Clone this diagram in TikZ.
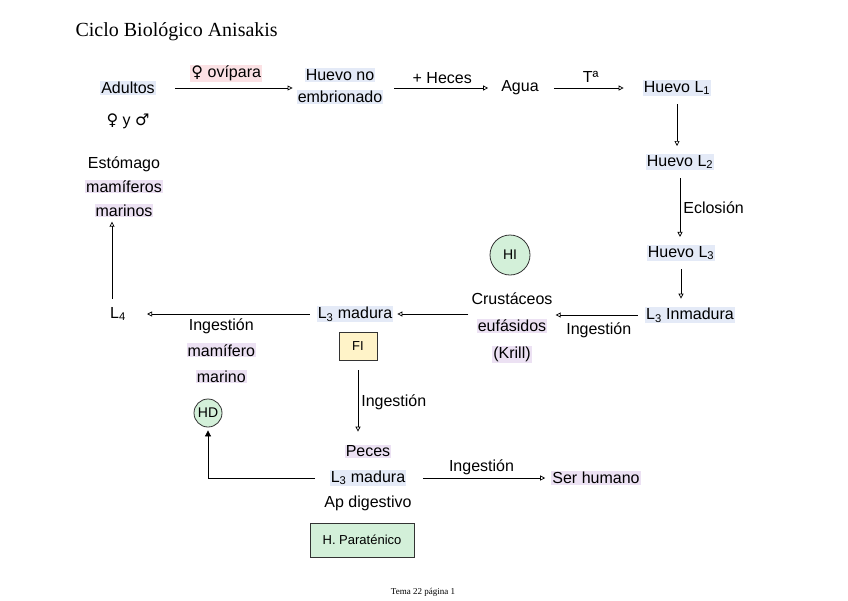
\documentclass[tikz,border=0pt]{standalone}
\usepackage{fontspec}
\setmainfont{Liberation Serif}
\newfontfamily\hand{Liberation Sans}
\newfontfamily\symb{DejaVu Sans}
\usepackage{xcolor}
\usepackage{tikz}
\usetikzlibrary{arrows.meta,calc,positioning}

\definecolor{hlblue}{HTML}{E4EAF7}
\definecolor{hlpurple}{HTML}{ECE1F3}
\definecolor{hlpink}{HTML}{FBE1E4}
\definecolor{hostgreen}{HTML}{D3F0D9}
\definecolor{fiyellow}{HTML}{FFF3C8}
\newcommand{\hlb}[1]{{\setlength{\fboxsep}{1pt}\colorbox{hlblue}{#1}}}
\newcommand{\hlp}[1]{{\setlength{\fboxsep}{1pt}\colorbox{hlpurple}{#1}}}
\newcommand{\hlr}[1]{{\setlength{\fboxsep}{1pt}\colorbox{hlpink}{#1}}}

\tikzset{
  txt/.style={font=\hand\fontsize{16}{24}\selectfont,inner sep=1pt,align=center},
  arr/.style={-{Triangle[open,length=5pt,width=5pt]},line width=0.7pt,shorten >=7pt,shorten <=7pt},
  host/.style={circle,draw=black!80,line width=0.8pt,fill=hostgreen,inner sep=1pt,font=\hand\fontsize{14}{16}\selectfont},
  hostbox/.style={draw=black!80,line width=0.8pt,inner sep=5pt,font=\hand\fontsize{13}{15}\selectfont}
}

\begin{document}
\begin{tikzpicture}[x=1pt,y=-1pt]
\useasboundingbox (0,0) rectangle (848,600);
\node[anchor=base west,font=\fontsize{20}{24}\selectfont] (title) at (72,36) {Ciclo Biológico Anisakis};
\node[font=\fontsize{9}{11}\selectfont] (footer) at (423,592) {Tema 22 página 1};

% adultos
\node[txt] (adultos) at (128,88) {\hlb{Adultos}};
\node[txt] (sexos) at (128,121) {{\symb ♀} y {\symb ♂}};
\node[txt] (estomago) at (124,187) {Estómago\\\hlp{mamíferos}\\\hlp{marinos}};

% huevos
\node[txt] (huevono) at (340,86) {\hlb{Huevo no}\\[-2pt]\hlb{embrionado}};
\node[txt] (agua) at (520,88) {Agua};
\node[txt] (huevol1) at (677,88) {\hlb{Huevo L\textsubscript{1}}};
\node[txt] (huevol2) at (680,162) {\hlb{Huevo L\textsubscript{2}}};
\node[txt] (huevol3) at (681,253) {\hlb{Huevo L\textsubscript{3}}};
\node[txt] (l3inm) at (690,315) {\hlb{L\textsubscript{3} Inmadura}};

% krill
\node[host,minimum size=40pt] (hi) at (510,255) {HI};
\node[txt,font=\hand\fontsize{16}{27}\selectfont] (krill) at (512,328) {Crustáceos\\\hlp{eufásidos}\\\hlp{(Krill)}};
\node[txt] (l3mad) at (355,314) {\hlb{L\textsubscript{3} madura}};
\node[hostbox,fill=fiyellow,minimum width=38pt,minimum height=28pt] (fi) at (358,346) {FI};
\node[txt] (l4) at (118,314) {L\textsubscript{4}};
\node[host,minimum size=28pt] (hd) at (208,413) {HD};

% peces
\node[txt,font=\hand\fontsize{16}{25.5}\selectfont] (peces) at (368,478) {\hlp{Peces}\\\hlb{L\textsubscript{3} madura}\\Ap digestivo};
\node[hostbox,fill=hostgreen,minimum width=104pt,minimum height=34pt] (parat) at (362,540) {H. Paraténico};
\node[txt] (humano) at (596,478) {\hlp{Ser humano}};

\draw[arr,shorten <=18pt,shorten >=3pt] (adultos.east) -- (adultos.east -| huevono.west)
  node[midway,above=5pt,txt] {\hlr{{\symb ♀} ovípara}};
\draw[arr,shorten <=10pt,shorten >=12pt] (huevono.east |- agua.west) -- (agua.west)
  node[midway,above=3pt,txt] {+ Heces};
\draw[arr,shorten <=14pt,shorten >=18pt] (agua) -- (huevol1) node[midway,above=4pt,txt] {Tª};
\draw[arr] (huevol1.south) -- (huevol1.south |- huevol2.north);
\draw[arr] (huevol2.south) -- (huevol2.south |- huevol3.north)
  node[midway,right=2pt,txt] {Eclosión};
\draw[arr] (huevol3.south) -- (huevol3.south |- l3inm.north);
\draw[arr,shorten <=6pt,shorten >=2pt] (l3inm.west) -- (l3inm.west -| krill.east)
  node[midway,below=6pt,txt] {Ingestión};
\draw[arr,shorten <=2pt,shorten >=3pt] (krill.west |- l3mad.east) -- (l3mad.east);
\draw[arr,shorten <=6pt,shorten >=20pt] (l3mad.west) -- (l4.east)
  node[midway,below=3pt,txt,font=\hand\fontsize{16}{26}\selectfont] {Ingestión\\\hlp{mamífero}\\\hlp{marino}};
\draw[arr,shorten >=3pt] ([xshift=-6pt]l4.north) -- ([xshift=-6pt]l4.north |- estomago.south);
\draw[arr,shorten <=10pt,shorten >=12pt] (fi.south) -- (fi.south |- peces.north)
  node[midway,right=2pt,txt] {Ingestión};
\draw[line width=0.8pt,-{Triangle[length=6pt,width=6pt]},shorten <=8pt,shorten >=3pt] (peces.west) -| (hd.south);
\draw[arr,shorten <=10pt,shorten >=5pt] (peces.east) -- (humano.west)
  node[midway,above=2pt,txt] {Ingestión};
\end{tikzpicture}
\end{document}
